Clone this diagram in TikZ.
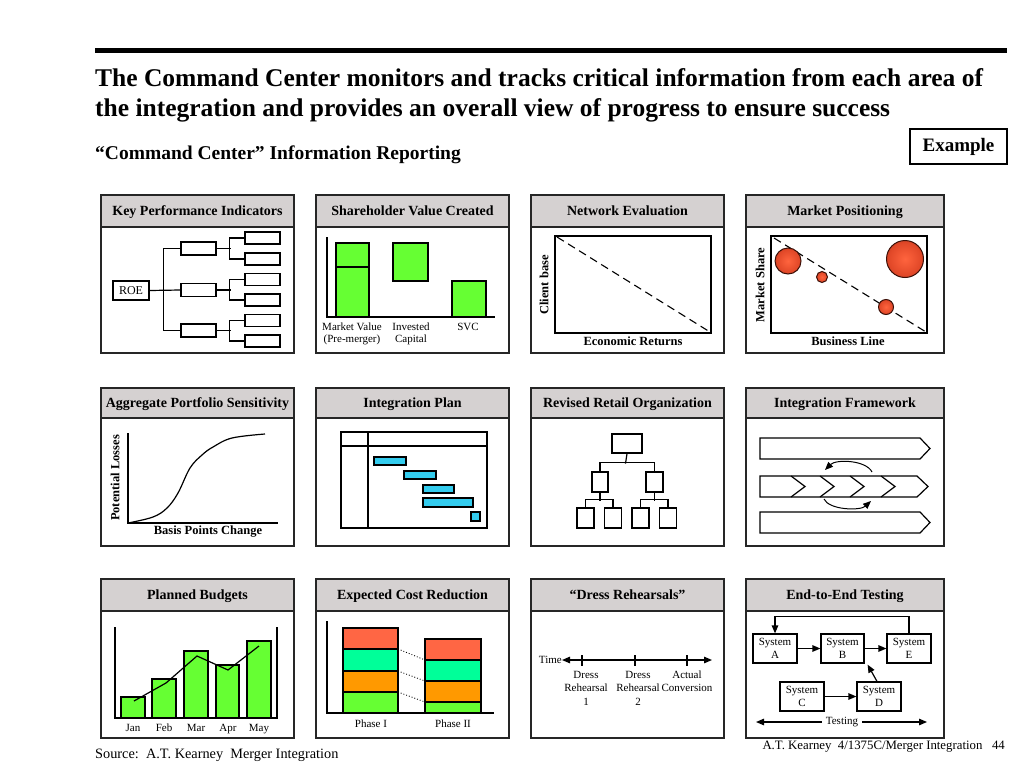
\documentclass[tikz,border=0pt]{standalone}
\usepackage{fontspec}
\setmainfont{Liberation Serif}
\usetikzlibrary{arrows.meta,calc}
\definecolor{hdr}{RGB}{213,209,209}
\definecolor{bargreen}{RGB}{102,255,51}
\definecolor{gcyan}{RGB}{51,204,238}
\definecolor{cred}{RGB}{255,102,68}
\definecolor{cteal}{RGB}{0,255,153}
\definecolor{corange}{RGB}{255,153,0}
\definecolor{bubin}{RGB}{255,100,62}
\definecolor{bubmid}{RGB}{225,72,40}
\definecolor{bubout}{RGB}{115,26,10}
\definecolor{bubedge}{RGB}{60,16,8}
\pgfdeclareradialshading{bubble}{\pgfpoint{0bp}{0bp}}{color(0bp)=(bubin); color(22bp)=(bubmid); color(50bp)=(bubout)}
\tikzset{
  panelbox/.style={draw=black!85, line width=1.5pt, fill=white},
  headbox/.style={draw=black!85, line width=1.5pt, fill=hdr},
  headtext/.style={font=\fontsize{14}{16}\selectfont\bfseries, inner sep=0pt, anchor=base},
  ln/.style={line width=1.2pt},
  kbox/.style={draw, line width=1.2pt, fill=white, inner sep=0pt},
  lbl/.style={font=\fontsize{11}{12}\selectfont, inner sep=0pt, align=center},
  axlbl/.style={font=\fontsize{12.5}{14}\selectfont\bfseries, inner sep=0pt},
  sysbox/.style={draw, line width=1.2pt, fill=white, inner sep=0pt, minimum width=44pt, minimum height=29pt, align=center, font=\fontsize{11}{13.5}\selectfont},
  tip/.style={-{Triangle[length=8pt,width=6.5pt]}},
  dtip/.style={{Triangle[length=8pt,width=6.5pt]}-{Triangle[length=8pt,width=6.5pt]}},
}
\newcommand\mkpanel[7]{%
  \draw[panelbox] (#2,#3) rectangle (#4,#5);
  \draw[headbox] (#2,#3) rectangle (#4,#6);
  \node[headtext] (#1) at ({(#2+#4)/2},{(#3+#6)/2+4.8}) {#7};}
\begin{document}
\begin{tikzpicture}[x=1pt,y=-1pt]
\useasboundingbox (0,0) rectangle (1024,768);
\fill[white] (0,0) rectangle (1024,768);

% ---------- header ----------
\draw[line width=5pt] (95,51) -- (1007,51);
\node[anchor=base west, inner sep=0pt, font=\fontsize{25.5}{30}\selectfont\bfseries] (title1) at (95,86) {The Command Center monitors and tracks critical information from each area of};
\node[anchor=base west, inner sep=0pt, font=\fontsize{25.5}{30}\selectfont\bfseries] (title2) at (95,116) {the integration and provides an overall view of progress to ensure success};
\node[anchor=base west, inner sep=0pt, font=\fontsize{19.5}{22}\selectfont\bfseries] (subtitle) at (95,159) {“Command Center” Information Reporting};
\node[draw, line width=1.3pt, minimum width=97pt, minimum height=35pt, inner sep=0pt, font=\fontsize{19}{21}\selectfont\bfseries] (example) at (958.5,146.5) {Example};

% ---------- footer ----------
\node[anchor=base west, inner sep=0pt, font=\fontsize{14.3}{16}\selectfont] (source) at (95,758) {Source:\ \ A.T. Kearney\ \ Merger Integration};
\node[anchor=base east, inner sep=0pt, font=\fontsize{12.8}{14}\selectfont] (pageinfo) at (1005,749) {A.T. Kearney\ \ 4/1375C/Merger Integration\ \ \ 44};

% ---------- Panel 1: KPI ----------
\mkpanel{h1}{101}{195}{294}{353}{227}{Key Performance Indicators}
\node[kbox, minimum width=36pt, minimum height=19pt, font=\fontsize{12}{14}\selectfont] (roe) at (131,290.5) {ROE};
\foreach \n/\y in {m1/248.5, m2/290, m3/330.5}
  \node[kbox, minimum width=35pt, minimum height=13pt] (\n) at (198.5,\y) {};
\foreach \n/\y in {r1/238, r2/259, r3/279.5, r4/300, r5/320.5, r6/341}
  \node[kbox, minimum width=35pt, minimum height=12pt] (\n) at (262.5,\y) {};
\draw[ln] (roe.east) -- (m2.west);
\draw[ln] (m1.west) -- ++(-17,0) |- (m3.west);
\draw[ln] (r1.west) -- ++(-15,0) |- (r2.west);
\draw[ln] (r3.west) -- ++(-15,0) |- (r4.west);
\draw[ln] (r5.west) -- ++(-15,0) |- (r6.west);
\draw[ln] (m1.east) -- ++(14,0);
\draw[ln] (m2.east) -- ++(14,0);
\draw[ln] (m3.east) -- ++(14,0);

% ---------- Panel 2: SVC ----------
\mkpanel{h2}{316}{195}{509}{353}{227}{Shareholder Value Created}
\draw[ln] (327,237) -- (327,317) -- (495,317);
\draw[ln, fill=bargreen] (336,243) rectangle (369,317);
\draw[ln] (336,267) -- (369,267);
\draw[ln, fill=bargreen] (393,243) rectangle (428,281);
\draw[ln, fill=bargreen] (452,281) rectangle (486,317);
\node[lbl, anchor=north] (mv) at (352,321.5) {\strut Market Value\\(Pre-merger)};
\node[lbl, anchor=north] (ic) at (411,321.5) {\strut Invested\\Capital};
\node[lbl, anchor=north] (svc) at (468,321.5) {\strut SVC};

% ---------- Panel 3: Network ----------
\mkpanel{h3}{531}{195}{724}{353}{227}{Network Evaluation}
\draw[ln] (555,236) rectangle (711,333);
\draw[line width=1.1pt, dash pattern=on 8pt off 5pt] (557,237) -- (710,332);
\node[axlbl, rotate=90] (cb) at (544,285) {Client base};
\node[axlbl] (er) at (633,341.5) {Economic Returns};

% ---------- Panel 4: Market ----------
\mkpanel{h4}{746}{195}{944}{353}{227}{Market Positioning}
\draw[ln] (771,236) rectangle (927,333);
\draw[line width=1.1pt, dash pattern=on 8pt off 5pt] (774,238) -- (926,332);
\shadedraw[shading=bubble, draw=bubedge, line width=1pt] (788,261) circle (13);
\shadedraw[shading=bubble, draw=bubedge, line width=1pt] (822,277) circle (5.5);
\shadedraw[shading=bubble, draw=bubedge, line width=1pt] (905,259) circle (18.5);
\shadedraw[shading=bubble, draw=bubedge, line width=1pt] (886,307) circle (7.5);
\node[axlbl, rotate=90] (ms) at (760,285) {Market Share};
\node[axlbl] (bl) at (848,341.5) {Business Line};

% ---------- Panel 5: Aggregate ----------
\mkpanel{h5}{101}{388}{294}{546}{418}{Aggregate Portfolio Sensitivity}
\draw[ln] (128,433) -- (128,523) -- (278,523);
\draw[ln] plot[smooth, tension=0.6] coordinates {(128,523) (153,517) (167,508) (178,493) (190,468) (202,455) (213,447) (232,438) (265,434)};
\node[axlbl, rotate=90] (plo) at (115,478) {Potential Losses};
\node[axlbl] (bpc) at (208,531.5) {Basis Points Change};

% ---------- Panel 6: Integration Plan ----------
\mkpanel{h6}{316}{388}{509}{546}{418}{Integration Plan}
\draw[ln] (341,432) rectangle (487,528);
\draw[ln] (341,446) -- (487,446);
\draw[ln] (368,432) -- (368,528);
\draw[ln, fill=gcyan] (374,457) rectangle (406,465);
\draw[ln, fill=gcyan] (404,471) rectangle (436,479);
\draw[ln, fill=gcyan] (423,485) rectangle (454,493);
\draw[ln, fill=gcyan] (423,498) rectangle (473,507);
\draw[ln, fill=gcyan] (471,512) rectangle (480,521);

% ---------- Panel 7: Org ----------
\mkpanel{h7}{531}{388}{724}{546}{418}{Revised Retail Organization}
\node[kbox, minimum width=30pt, minimum height=19pt] (otop) at (627,443.5) {};
\node[kbox, minimum width=16pt, minimum height=20pt] (oml) at (600,482) {};
\node[kbox, minimum width=17pt, minimum height=20pt] (omr) at (654.5,482) {};
\foreach \n/\x in {ob1/585.5, ob2/613, ob3/640.5, ob4/668}
  \node[kbox, minimum width=17pt, minimum height=20pt] (\n) at (\x,518) {};
\draw[ln] (otop.south) -- ++(-1.5,10);
\draw[ln] (oml.north) -- ++(0,-9) -| (omr.north);
\draw[ln] (oml.south) -- ++(0,8);
\draw[ln] (omr.south) -- ++(0,8);
\draw[ln] (ob1.north) -- ++(0,-8) -| (ob2.north);
\draw[ln] (ob3.north) -- ++(0,-8) -| (ob4.north);

% ---------- Panel 8: Framework ----------
\mkpanel{h8}{746}{388}{944}{546}{418}{Integration Framework}
\draw[ln, line join=miter] (760,438) -- (920,438) -- (930,448.5) -- (920,459) -- (760,459) -- cycle;
\draw[ln, line join=miter] (760,476) -- (917,476) -- (928,486.5) -- (917,497) -- (760,497) -- cycle;
\foreach \x in {791,820,850,881}
  \draw[ln] (\x,476) -- (\x+14,486.5) -- (\x,497);
\draw[ln, line join=miter] (760,512) -- (920,512) -- (930,522.5) -- (920,533) -- (760,533) -- cycle;
\draw[line width=1pt, tip] (872,472) .. controls (866,460) and (836,459) .. (825,470);
\draw[line width=1pt, tip] (824,499) .. controls (829,510) and (860,511) .. (871,501);

% ---------- Panel 9: Budgets ----------
\mkpanel{h9}{101}{579}{294}{738}{611}{Planned Budgets}
\draw[ln] (115,627) -- (115,718) -- (277,718) -- (277,627);
\draw[ln, fill=bargreen] (121,697) rectangle (145,718);
\draw[ln, fill=bargreen] (152,679) rectangle (176,718);
\draw[ln, fill=bargreen] (184,651) rectangle (208,718);
\draw[ln, fill=bargreen] (216,665) rectangle (239,718);
\draw[ln, fill=bargreen] (247,641) rectangle (271,718);
\draw[ln] (134,701) -- (166,683) -- (197,656) -- (228,670) -- (259,646);
\foreach \n/\x/\t in {jan/133/Jan, feb/164/Feb, mar/196/Mar, apr/228/Apr, may/259/May}
  \node[lbl, anchor=base] (\n) at (\x,731) {\t};

% ---------- Panel 10: Cost ----------
\mkpanel{h10}{316}{579}{509}{738}{611}{Expected Cost Reduction}
\draw[ln] (327,621) -- (327,713) -- (494,713);
\draw[ln, fill=cred] (343,628) rectangle (398,649);
\draw[ln, fill=cteal] (343,649) rectangle (398,671);
\draw[ln, fill=corange] (343,671) rectangle (398,692);
\draw[ln, fill=bargreen] (343,692) rectangle (398,713);
\draw[ln, fill=cred] (425,639) rectangle (481,660);
\draw[ln, fill=cteal] (425,660) rectangle (481,681);
\draw[ln, fill=corange] (425,681) rectangle (481,702);
\draw[ln, fill=bargreen] (425,702) rectangle (481,713);
\draw[line width=0.9pt, dotted] (398,649) -- (425,660);
\draw[line width=0.9pt, dotted] (398,671) -- (425,681);
\draw[line width=0.9pt, dotted] (398,692) -- (425,702);
\node[lbl, anchor=base] (ph1) at (371,727) {Phase I};
\node[lbl, anchor=base] (ph2) at (453,727) {Phase II};

% ---------- Panel 11: Dress ----------
\mkpanel{h11}{531}{579}{724}{738}{611}{“Dress Rehearsals”}
\node[lbl, anchor=east] (time) at (562,660) {Time};
\draw[ln, dtip] (time.east) -- ++(150,0);
\foreach \x in {582,635,687} \draw[ln] (\x,655) -- (\x,666);
\node[lbl, anchor=north, font=\fontsize{11}{13.5}\selectfont] (dr1) at (586,668.5) {\strut Dress\\Rehearsal\\1};
\node[lbl, anchor=north, font=\fontsize{11}{13.5}\selectfont] (dr2) at (638,668.5) {\strut Dress\\Rehearsal\\2};
\node[lbl, anchor=north, font=\fontsize{11}{13.5}\selectfont] (ac) at (687,668.5) {\strut Actual\\Conversion};

% ---------- Panel 12: Testing ----------
\mkpanel{h12}{746}{579}{944}{738}{611}{End-to-End Testing}
\node[sysbox] (sA) at (775,648.5) {System\\A};
\node[sysbox, minimum width=43pt] (sB) at (842.5,648.5) {System\\B};
\node[sysbox] (sE) at (909,648.5) {System\\E};
\node[sysbox] (sC) at (802,696.5) {System\\C};
\node[sysbox] (sD) at (879,696.5) {System\\D};
\draw[ln, tip] (sA.east) -- (sB.west);
\draw[ln, tip] (sB.east) -- (sE.west);
\draw[ln, tip] (sC.east) -- (sD.west);
\draw[ln, tip] ($(sD.north)+(-2,0)$) -- ($(sB.south east)+(3,1)$);
\draw[ln, tip] (sE.north) -- ++(0,-17) -| (sA.north);
\node[lbl] (tst) at (842,722) {Testing};
\coordinate (tL) at (756,722);
\coordinate (tR) at (927,722);
\draw[ln, tip] ([xshift=-4pt]tst.west) -- (tL);
\draw[ln, tip] ([xshift=4pt]tst.east) -- (tR);
\end{tikzpicture}
\end{document}
